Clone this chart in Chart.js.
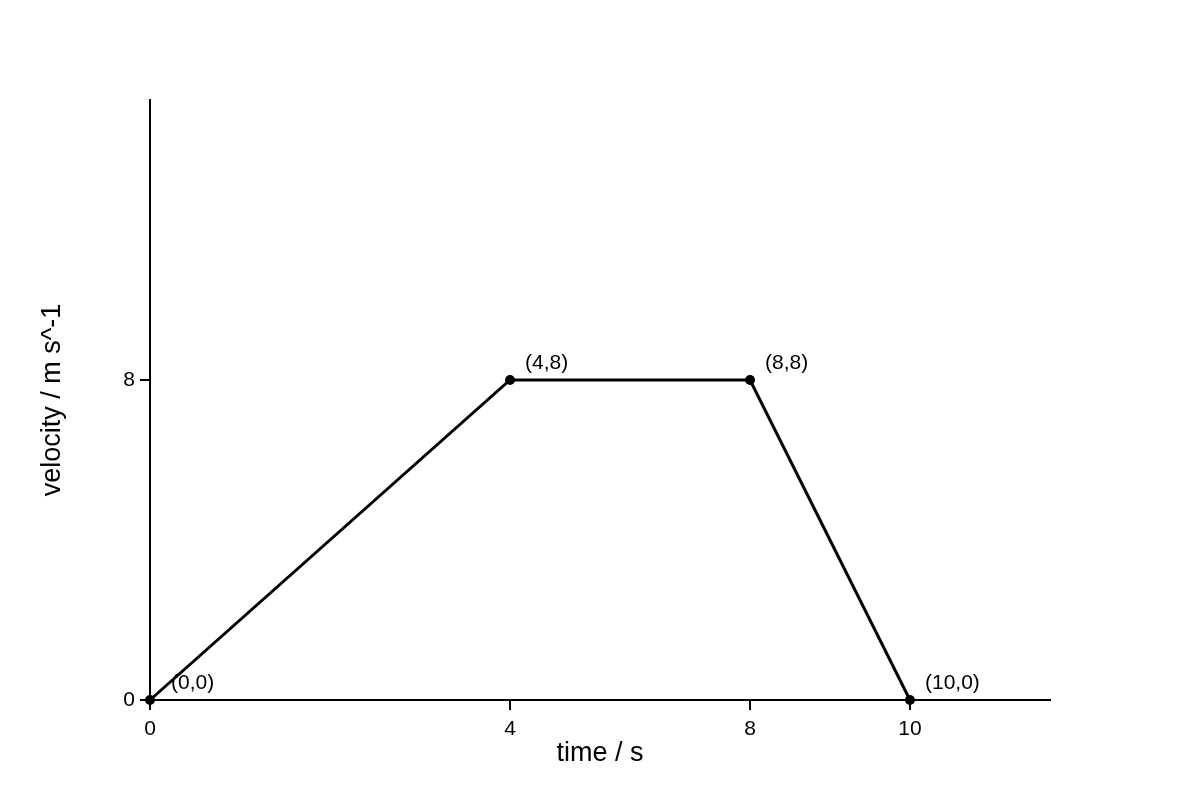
<!DOCTYPE html>
<html>
<head>
<meta charset="utf-8">
<script src="https://cdn.jsdelivr.net/npm/chart.js@4/dist/chart.umd.min.js"></script>
<style>
  html, body { margin: 0; padding: 0; background: #fff; }
  #wrap { width: 1200px; height: 800px; }
</style>
</head>
<body>
<div id="wrap"><canvas id="vt" width="1200" height="800"></canvas></div>
<script>
// Data
const times = [0, 4, 8, 10];
const velocities = [0, 8, 8, 0];
const xTicks = [0, 4, 8, 10];
const yTicks = [0, 8];

const FONT = "'Liberation Sans', Arial, sans-serif";

// x axis in the reference is not evenly spaced, so map value -> fraction piecewise
class PiecewiseScale extends Chart.LinearScale {
  static id = "piecewise";
  static defaults = Chart.LinearScale.defaults;

  _frac(v) {
    const k = this.options.knots;
    if (v <= k[0][0]) return k[0][1];
    for (let i = 1; i < k.length; i++) {
      if (v <= k[i][0]) {
        const t = (v - k[i-1][0]) / (k[i][0] - k[i-1][0]);
        return k[i-1][1] + t * (k[i][1] - k[i-1][1]);
      }
    }
    return k[k.length-1][1];
  }
  getPixelForValue(v) {
    return this.left + this._frac(v) * this.width;
  }
  getValueForPixel(p) {
    const k = this.options.knots;
    const f = (p - this.left) / this.width;
    for (let i = 1; i < k.length; i++) {
      if (f <= k[i][1]) {
        const t = (f - k[i-1][1]) / (k[i][1] - k[i-1][1]);
        return k[i-1][0] + t * (k[i][0] - k[i-1][0]);
      }
    }
    return k[k.length-1][0];
  }
}
Chart.register(PiecewiseScale);

// point labels "(x,y)"
const pointLabels = {
  id: "pointLabels",
  afterDatasetsDraw(chart) {
    const ctx = chart.ctx;
    const meta = chart.getDatasetMeta(0);
    const left = chart.chartArea.left;
    ctx.save();
    ctx.font = "21px " + FONT;
    ctx.fillStyle = "#000";
    ctx.textAlign = "left";
    ctx.textBaseline = "middle";
    meta.data.forEach((pt, i) => {
      // keep the first label clear of the y axis
      const x = Math.max(pt.x + 15, left + 21);
      ctx.fillText(`(${times[i]},${velocities[i]})`, x, pt.y - 17);
    });
    ctx.restore();
  }
};

new Chart(document.getElementById("vt"), {
  type: "line",
  data: {
    datasets: [{
      label: "velocity",
      data: times.map((t, i) => ({ x: t, y: velocities[i] })),
      borderColor: "#000",
      backgroundColor: "#000",
      borderWidth: 3,
      pointRadius: 5,
      pointBackgroundColor: "#000",
      pointBorderWidth: 0,
      tension: 0,
      clip: false
    }]
  },
  options: {
    responsive: false,
    animation: false,
    devicePixelRatio: 1,
    layout: { padding: { left: 32, right: 150, top: 100, bottom: 26 } },
    plugins: { legend: { display: false }, tooltip: { enabled: false } },
    scales: {
      x: {
        type: "piecewise",
        knots: [[0, 0], [4, 0.4], [8, 0.6667], [10, 0.8444], [12, 1]],
        min: 0,
        max: 12,
        afterBuildTicks: s => { s.ticks = xTicks.map(v => ({ value: v })); },
        afterFit: s => { s.height = 74; },
        border: { display: true, color: "#000", width: 2 },
        grid: { drawOnChartArea: false, drawTicks: true, tickLength: 10, color: "#000", lineWidth: 2 },
        ticks: { color: "#000", font: { family: FONT, size: 21 }, padding: 7, maxRotation: 0 },
        title: { display: true, text: "time / s", color: "#000", font: { family: FONT, size: 27 } }
      },
      y: {
        type: "linear",
        min: 0,
        max: 15,
        afterBuildTicks: s => { s.ticks = yTicks.map(v => ({ value: v })); },
        afterFit: s => { s.width = 118; },
        border: { display: true, color: "#000", width: 2 },
        grid: { drawOnChartArea: false, drawTicks: true, tickLength: 10, color: "#000", lineWidth: 2 },
        ticks: { color: "#000", font: { family: FONT, size: 21 }, padding: 5 },
        title: { display: true, text: "velocity / m s^-1", color: "#000", font: { family: FONT, size: 27 } }
      }
    }
  },
  plugins: [pointLabels]
});
</script>
</body>
</html>
